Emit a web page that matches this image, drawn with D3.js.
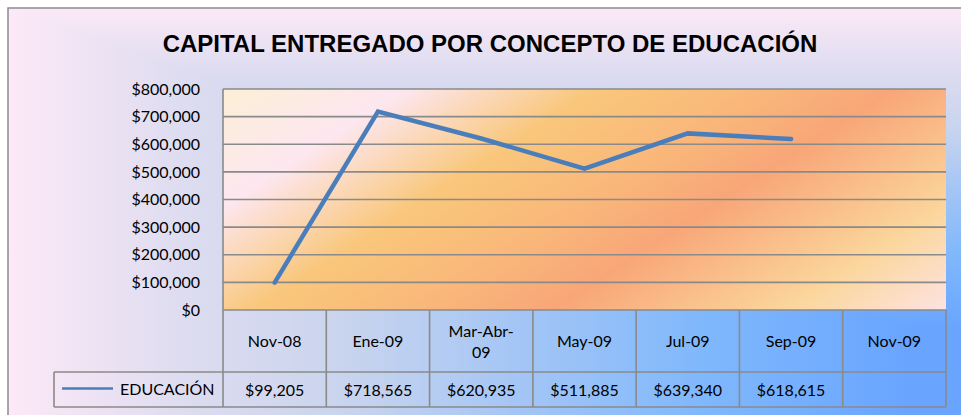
<!DOCTYPE html>
<html>
<head>
<meta charset="utf-8">
<script src="https://cdn.jsdelivr.net/npm/d3@7"></script>
<style>
  body { margin: 0; background: #fff; }
  svg { display: block; }
  text { font-family: Lato, "Open Sans", sans-serif; fill: #000; }
</style>
</head>
<body>
<svg id="chart" width="961" height="415"></svg>
<script>
// data
var categories = ["Nov-08", "Ene-09", "Mar-Abr-09", "May-09", "Jul-09", "Sep-09", "Nov-09"];
var educacion = [99205, 718565, 620935, 511885, 639340, 618615, null];
var yTicks = [0, 100000, 200000, 300000, 400000, 500000, 600000, 700000, 800000];
var seriesName = "EDUCACIÓN";
var title = "CAPITAL ENTREGADO POR CONCEPTO DE EDUCACIÓN";

var plotL = 223, plotR = 946, plotT = 89, plotB = 310;
var rowH = 62, valH = 35, legendX = 54;
var lineColor = "#4a7ebb", gridColor = "#8a8a8a";

var svg = d3.select("#chart");
var defs = svg.append("defs");

// outer background: rectangular "from corner" gradient, built from two linear ones
var bgStops = [[0, "#fde9f7"], [0.2, "#dddcf0"], [0.38, "#c8d4ee"], [0.56, "#a5c6f5"], [0.77, "#80b8fc"], [1, "#69a5ff"]];
function grad(id, x1, y1, x2, y2, stops) {
  var g = defs.append("linearGradient").attr("id", id)
    .attr("gradientUnits", "userSpaceOnUse")
    .attr("x1", x1).attr("y1", y1).attr("x2", x2).attr("y2", y2);
  stops.forEach(function(s){ g.append("stop").attr("offset", s[0]).attr("stop-color", s[1]); });
}
grad("bgH", 8, 0, 908, 0, bgStops);
grad("bgV", 0, 8, 0, 328, bgStops);
var cut = 8 + (1000 - 8) * 320 / 900;
svg.append("rect").attr("x", 8).attr("y", 8).attr("width", 1000).attr("height", 500).attr("fill", "url(#bgH)");
svg.append("polygon").attr("points", [[8,8],[1000,8],[1000,cut]].join(" ")).attr("fill", "url(#bgV)");
svg.append("rect").attr("x", 8).attr("y", 8).attr("width", 1000).attr("height", 500)
  .attr("fill", "none").attr("stroke", "#8c8c8c").attr("stroke-width", 1.5);

// plot area: diagonal banded sunset gradient
var slope = 1.55, nrm = Math.sqrt(1 + slope * slope);
var len = ((plotR - plotL) + slope * (plotB - plotT)) / nrm;
grad("plotBg", plotL, plotT, plotL + len / nrm, plotT + slope * len / nrm, [
  [0, "#fcefd6"], [0.17, "#fde7f0"], [0.35, "#f9c77b"], [0.5, "#f9b87a"],
  [0.63, "#f8a678"], [0.85, "#fbd69c"], [1, "#fde3e2"]
]);

var x = d3.scaleBand().domain(categories).range([plotL, plotR]);
var y = d3.scaleLinear().domain([0, 800000]).range([plotB, plotT]);

svg.append("rect").attr("x", plotL).attr("y", plotT)
  .attr("width", plotR - plotL).attr("height", plotB - plotT).attr("fill", "url(#plotBg)");

// gridlines
svg.append("g").selectAll("line").data(yTicks.slice(1)).join("line")
  .attr("x1", plotL).attr("x2", plotR)
  .attr("y1", function(d){ return y(d); }).attr("y2", function(d){ return y(d); })
  .attr("stroke", gridColor).attr("stroke-width", 1.6);
svg.append("line").attr("x1", plotL).attr("x2", plotL).attr("y1", plotT).attr("y2", plotB + rowH + valH)
  .attr("stroke", gridColor).attr("stroke-width", 1.6);

// y axis labels
var yAxis = svg.append("g").attr("transform", "translate(" + plotL + ",0)")
  .call(d3.axisLeft(y).tickValues(yTicks).tickFormat(d3.format("$,")).tickSize(0).tickPadding(23));
yAxis.select(".domain").remove();
yAxis.selectAll("text").style("font-family", "Lato").style("font-size", "16px").attr("fill", "#000");

// line
var line = d3.line()
  .defined(function(d){ return d != null; })
  .x(function(d, i){ return x(categories[i]) + x.bandwidth() / 2; })
  .y(function(d){ return y(d); });
svg.append("path").datum(educacion).attr("d", line)
  .attr("fill", "none").attr("stroke", lineColor).attr("stroke-width", 4.5)
  .attr("stroke-linecap", "round").attr("stroke-linejoin", "miter");

// data table
var tbl = svg.append("g");
var rowBottom = plotB + rowH, tblBottom = rowBottom + valH;
tbl.selectAll("line.v").data(categories).join("line")
  .attr("x1", function(d){ return x(d) + x.bandwidth(); }).attr("x2", function(d){ return x(d) + x.bandwidth(); })
  .attr("y1", plotB).attr("y2", tblBottom)
  .attr("stroke", gridColor).attr("stroke-width", 1.6);
tbl.append("line").attr("x1", plotL).attr("x2", plotR).attr("y1", plotB).attr("y2", plotB)
  .attr("stroke", gridColor).attr("stroke-width", 1.6);
tbl.append("line").attr("x1", legendX).attr("x2", plotR).attr("y1", rowBottom).attr("y2", rowBottom)
  .attr("stroke", gridColor).attr("stroke-width", 1.6);
tbl.append("line").attr("x1", legendX).attr("x2", plotR).attr("y1", tblBottom).attr("y2", tblBottom)
  .attr("stroke", gridColor).attr("stroke-width", 1.6);
tbl.append("line").attr("x1", legendX).attr("x2", legendX).attr("y1", rowBottom).attr("y2", tblBottom)
  .attr("stroke", gridColor).attr("stroke-width", 1.6);

// category labels, wrapped after a hyphen when too wide
var catText = tbl.selectAll("text.cat").data(categories).join("text")
  .attr("class", "cat")
  .attr("text-anchor", "middle").style("font-size", "16px")
  .attr("x", function(d){ return x(d) + x.bandwidth() / 2; });
catText.each(function(d){
  var t = d3.select(this);
  var cx = x(d) + x.bandwidth() / 2;
  var parts = [d];
  if (d.length > 7) {
    var k = d.lastIndexOf("-");
    parts = [d.slice(0, k + 1), d.slice(k + 1)];
  }
  var lh = 21, y0 = plotB + rowH / 2 + 6 - (parts.length - 1) * lh / 2;
  parts.forEach(function(p, i){
    t.append("tspan").attr("x", cx).attr("y", y0 + i * lh).text(p);
  });
});

// values row
var fmt = d3.format("$,");
tbl.selectAll("text.val").data(educacion).join("text")
  .attr("class", "val")
  .attr("text-anchor", "middle").style("font-size", "16px")
  .attr("x", function(d, i){ return x(categories[i]) + x.bandwidth() / 2; })
  .attr("y", rowBottom + valH / 2 + 6)
  .text(function(d){ return d == null ? "" : fmt(d); });

// legend key
tbl.append("line").attr("x1", 62).attr("x2", 113)
  .attr("y1", rowBottom + valH / 2 - 1).attr("y2", rowBottom + valH / 2 - 1)
  .attr("stroke", lineColor).attr("stroke-width", 2.5);
tbl.append("text").attr("x", 120).attr("y", rowBottom + valH / 2 + 5)
  .style("font-size", "16px").text(seriesName);

// title
svg.append("text").attr("x", 490).attr("y", 52).attr("text-anchor", "middle")
  .style("font-family", "'Liberation Sans', Arial, sans-serif")
  .style("font-weight", "bold").style("font-size", "24px").text(title);
</script>
</body>
</html>
